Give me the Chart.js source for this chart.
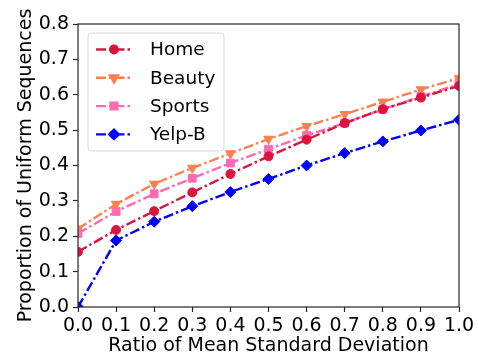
<!DOCTYPE html>
<html>
<head>
<meta charset="utf-8">
<script src="https://cdn.jsdelivr.net/npm/chart.js@4"></script>
<style>
  html, body { margin: 0; padding: 0; background: #fff; }
  #wrap { width: 479px; height: 360px; }
</style>
</head>
<body>
<div id="wrap"><canvas id="chart"></canvas></div>
<script>
const ratioLabels = ["0.0", "0.1", "0.2", "0.3", "0.4", "0.5", "0.6", "0.7", "0.8", "0.9", "1.0"];
const homeValues = [0.156, 0.218, 0.271, 0.324, 0.376, 0.426, 0.473, 0.520, 0.559, 0.592, 0.625];
const beautyValues = [0.221, 0.291, 0.348, 0.393, 0.434, 0.475, 0.511, 0.545, 0.580, 0.615, 0.647];
const sportsValues = [0.208, 0.270, 0.320, 0.364, 0.407, 0.446, 0.485, 0.520, 0.559, 0.595, 0.630];
const yelpValues = [0.0, 0.188, 0.241, 0.285, 0.325, 0.362, 0.400, 0.435, 0.468, 0.499, 0.529];

const fontFamily = "'DejaVu Sans', sans-serif";
const dashDot = [10, 3, 2.5, 3];

function makeSeries(label, data, color, pointStyle, radius, rotation) {
  return {
    label: label,
    data: data,
    borderColor: color,
    backgroundColor: color,
    borderWidth: 2.4,
    borderDash: dashDot,
    pointStyle: pointStyle,
    pointRadius: radius,
    pointRotation: rotation || 0,
    pointBorderWidth: 1,
    pointBackgroundColor: color,
    pointBorderColor: color,
    tension: 0,
    clip: 0
  };
}

const datasets = [
  makeSeries("Home", homeValues, "#DC143C", "circle", 4.5),
  makeSeries("Beauty", beautyValues, "#FF7F50", "triangle", 5.5, 180),
  makeSeries("Sports", sportsValues, "#FF69B4", "rect", 5.5),
  makeSeries("Yelp-B", yelpValues, "#0000FF", "rectRot", 5.5)
];

// frame around the plot area plus a matplotlib-style legend box
const framePlugin = {
  id: "frame",
  afterDatasetsDraw(chart) {
    const { ctx, chartArea: a } = chart;
    ctx.save();
    ctx.strokeStyle = "#262626";
    ctx.lineWidth = 1.2;
    ctx.strokeRect(a.left, a.top, a.right - a.left, a.bottom - a.top);

    // legend
    const x = 88, y = 33, w = 136, h = 118, r = 4;
    ctx.beginPath();
    ctx.moveTo(x + r, y);
    ctx.arcTo(x + w, y, x + w, y + h, r);
    ctx.arcTo(x + w, y + h, x, y + h, r);
    ctx.arcTo(x, y + h, x, y, r);
    ctx.arcTo(x, y, x + w, y, r);
    ctx.closePath();
    ctx.fillStyle = "rgba(255,255,255,0.8)";
    ctx.fill();
    ctx.strokeStyle = "#d9d9d9";
    ctx.lineWidth = 1;
    ctx.stroke();

    ctx.font = "18.5px " + fontFamily;
    ctx.textBaseline = "middle";
    ctx.textAlign = "left";
    chart.data.datasets.forEach((ds, i) => {
      const cy = 49.5 + i * 28.3;
      ctx.strokeStyle = ds.borderColor;
      ctx.lineWidth = 2.4;
      ctx.setLineDash(dashDot);
      ctx.beginPath();
      ctx.moveTo(96, cy);
      ctx.lineTo(132, cy);
      ctx.stroke();
      ctx.setLineDash([]);
      ctx.fillStyle = ds.borderColor;
      Chart.helpers.drawPoint(ctx, {
        pointStyle: ds.pointStyle,
        radius: ds.pointRadius * 0.85,
        rotation: ds.pointRotation,
        borderWidth: 1
      }, 114, cy);
      ctx.fillStyle = "#000";
      ctx.fillText(ds.label, 150, cy + 1);
    });
    ctx.restore();
  }
};

new Chart(document.getElementById("chart"), {
  type: "line",
  data: { labels: ratioLabels, datasets: datasets },
  plugins: [framePlugin],
  options: {
    responsive: true,
    maintainAspectRatio: false,
    animation: false,
    layout: { padding: { left: 0, top: 24, right: 20, bottom: 0 } },
    plugins: {
      legend: { display: false },
      tooltip: { enabled: false }
    },
    scales: {
      x: {
        type: "category",
        offset: false,
        afterFit: scale => { scale.height = 53; },
        grid: { drawOnChartArea: false, tickLength: 5, color: "#262626", tickWidth: 1.2 },
        border: { display: false },
        ticks: { color: "#000", padding: 3, maxRotation: 0, autoSkip: false, font: { family: fontFamily, size: 19 } },
        title: {
          display: true,
          text: "Ratio of Mean Standard Deviation",
          color: "#000",
          font: { family: fontFamily, size: 19 },
          padding: { top: 0, bottom: 3 }
        }
      },
      y: {
        min: 0,
        max: 0.8,
        afterFit: scale => { scale.width = 78; },
        grid: { drawOnChartArea: false, tickLength: 5, color: "#262626", tickWidth: 1.2 },
        border: { display: false },
        ticks: {
          stepSize: 0.1,
          color: "#000",
          padding: 4,
          font: { family: fontFamily, size: 19 },
          callback: v => Number(v).toFixed(1)
        },
        title: {
          display: true,
          text: "Proportion of Uniform Sequences",
          color: "#000",
          font: { family: fontFamily, size: 19 },
          padding: { top: 15, bottom: 0 }
        }
      }
    }
  }
});
</script>
</body>
</html>
